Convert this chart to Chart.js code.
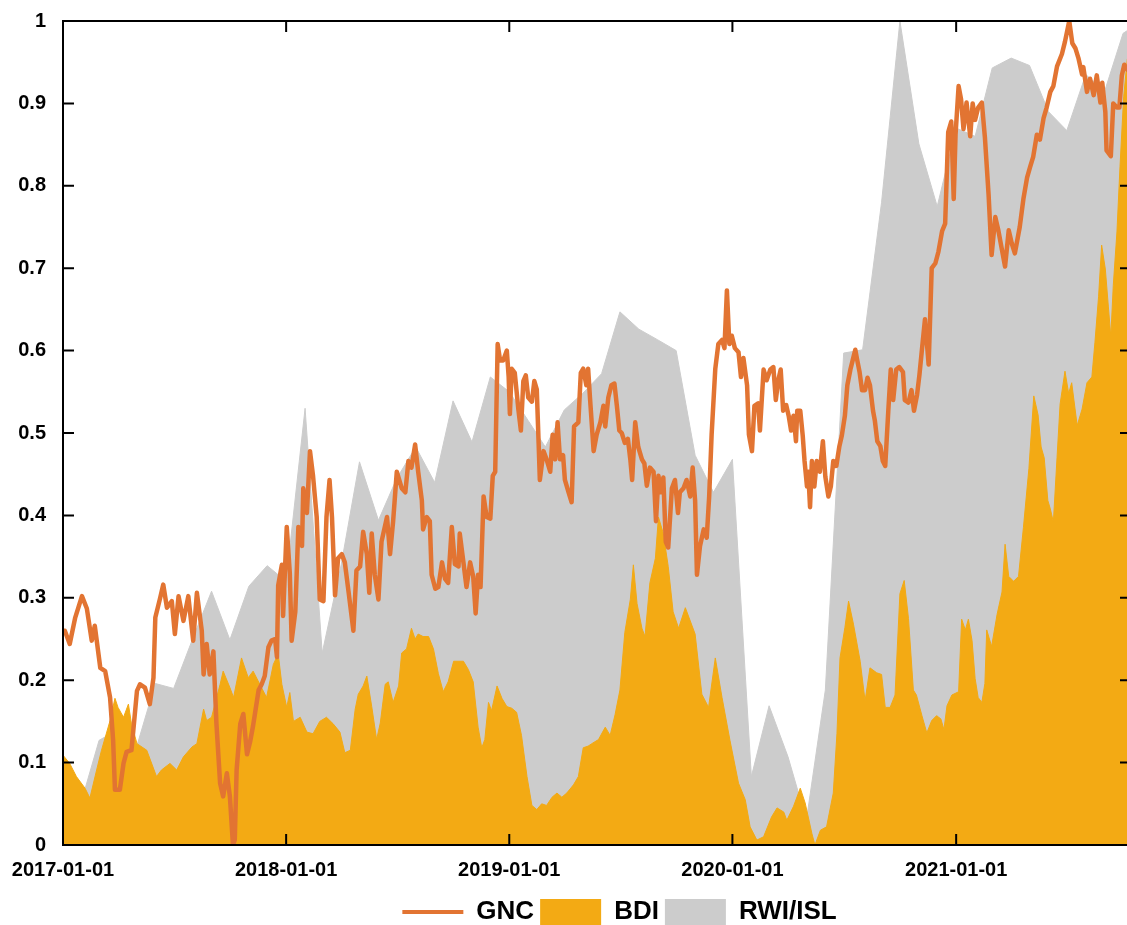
<!DOCTYPE html>
<html>
<head>
<meta charset="utf-8">
<title>GNC / BDI / RWI-ISL</title>
<script src="https://cdn.jsdelivr.net/npm/chart.js@4.4.1/dist/chart.umd.min.js"></script>
<style>
  html, body { margin: 0; padding: 0; overflow: hidden; background: #fff; }
  canvas { display: block; }
</style>
</head>
<body>
<canvas id="chart" width="1133" height="935"></canvas>
<script>
// x values are days since 2017-01-01, y values are normalised to 0..1
const tickDays = [0, 365, 730, 1095, 1461];
const tickLabels = ['2017-01-01', '2018-01-01', '2019-01-01', '2020-01-01', '2021-01-01'];

const gnc = [
  [0,.26],[3,.26],[11,.244],[20,.276],[31,.302],[39,.287],[47,.248],[52,.266],[61,.215],[69,.211],[77,.179],[82,.127],[85,.067],[93,.067],
  [99,.099],[104,.113],[112,.115],[115,.139],[121,.187],[126,.195],[134,.191],[142,.171],[148,.203],[151,.276],[159,.3],[164,.316],[170,.288],
  [178,.296],[183,.256],[189,.302],[197,.272],[205,.302],[213,.248],[219,.306],[227,.26],[230,.207],[235,.244],[240,.207],[246,.235],[251,.147],
  [257,.075],[262,.059],[268,.087],[273,.059],[278,0],[281,.006],[284,.091],[290,.147],[295,.159],[301,.11],[306,.125],[311,.145],[320,.188],
  [325,.195],[330,.205],[336,.24],[341,.248],[347,.25],[350,.228],[352,.315],[358,.34],[360,.278],[366,.386],[371,.33],[374,.248],[380,.283],
  [385,.386],[391,.363],[393,.433],[399,.403],[404,.478],[409,.448],[415,.398],[420,.298],[426,.296],[431,.398],[436,.443],[440,.398],[445,.303],
  [450,.348],[456,.353],[461,.343],[467,.308],[475,.26],[480,.333],[486,.338],[491,.38],[497,.353],[501,.306],[505,.378],[510,.328],[516,.298],
  [521,.368],[530,.398],[535,.353],[540,.393],[546,.453],[554,.433],[560,.428],[565,.466],[570,.458],[576,.486],[581,.453],[587,.418],[589,.383],
  [595,.398],[600,.393],[603,.328],[609,.311],[614,.313],[620,.343],[625,.323],[630,.318],[636,.386],[641,.341],[647,.338],[649,.378],[655,.343],
  [660,.313],[666,.343],[671,.326],[675,.281],[679,.328],[683,.313],[688,.423],[693,.398],[699,.396],[703,.448],[707,.453],[711,.608],[715,.588],
  [720,.588],[726,.6],[729,.568],[731,.523],[734,.578],[739,.573],[745,.528],[749,.503],[753,.563],[757,.57],[761,.543],[767,.538],[771,.563],
  [775,.553],[778,.488],[780,.443],[786,.478],[791,.468],[797,.453],[801,.498],[805,.468],[809,.513],[813,.468],[818,.473],[821,.443],[827,.428],
  [832,.416],[836,.508],[843,.513],[847,.573],[851,.578],[856,.558],[859,.578],[862,.543],[868,.478],[873,.498],[879,.513],[884,.533],[887,.508],
  [892,.543],[897,.558],[902,.56],[906,.533],[910,.503],[914,.5],[919,.488],[924,.493],[928,.468],[931,.443],[936,.513],[941,.483],[947,.468],
  [951,.463],[955,.436],[960,.458],[966,.453],[970,.393],[974,.448],[978,.428],[982,.446],[986,.368],[990,.361],[996,.433],[1001,.443],[1006,.403],
  [1009,.428],[1015,.433],[1020,.443],[1026,.423],[1030,.458],[1034,.418],[1037,.328],[1042,.363],[1048,.383],[1053,.373],[1057,.423],[1061,.498],
  [1067,.578],[1072,.608],[1078,.613],[1082,.603],[1086,.673],[1090,.608],[1094,.618],[1099,.603],[1105,.598],[1109,.568],[1113,.591],[1119,.558],
  [1122,.498],[1127,.478],[1131,.533],[1137,.536],[1140,.503],[1146,.577],[1151,.564],[1157,.577],[1162,.58],[1166,.54],[1170,.564],[1174,.577],
  [1178,.527],[1183,.534],[1187,.521],[1191,.503],[1195,.521],[1199,.49],[1201,.527],[1206,.527],[1210,.497],[1213,.466],[1217,.435],[1219,.453],
  [1222,.41],[1225,.466],[1229,.435],[1233,.466],[1238,.453],[1243,.49],[1247,.447],[1252,.423],[1256,.435],[1260,.466],[1265,.46],[1270,.484],
  [1274,.497],[1279,.521],[1283,.558],[1288,.577],[1292,.589],[1296,.601],[1299,.589],[1303,.574],[1307,.552],[1312,.552],[1316,.567],[1320,.558],
  [1325,.527],[1328,.515],[1332,.49],[1337,.484],[1341,.466],[1345,.46],[1350,.527],[1354,.577],[1358,.54],[1363,.577],[1368,.58],[1374,.574],
  [1377,.54],[1383,.537],[1388,.552],[1392,.527],[1397,.546],[1401,.571],[1405,.601],[1410,.638],[1416,.583],[1421,.7],[1427,.706],[1432,.72],
  [1438,.745],[1443,.754],[1448,.865],[1453,.878],[1457,.784],[1460,.862],[1465,.921],[1469,.905],[1473,.869],[1478,.901],[1484,.86],[1488,.9],
  [1492,.88],[1497,.895],[1503,.901],[1508,.859],[1514,.79],[1519,.716],[1525,.762],[1530,.746],[1536,.722],[1541,.702],[1547,.746],[1552,.73],
  [1557,.718],[1565,.75],[1571,.784],[1577,.81],[1582,.823],[1587,.835],[1593,.862],[1598,.856],[1604,.882],[1609,.895],[1615,.914],[1620,.921],
  [1626,.945],[1634,.96],[1639,.975],[1646,1],[1651,.973],[1656,.967],[1661,.955],[1667,.935],[1669,.944],[1675,.914],[1680,.93],[1686,.91],
  [1691,.934],[1697,.901],[1700,.925],[1705,.89],[1707,.843],[1714,.836],[1718,.9],[1724,.895],[1728,.895],[1732,.934],[1736,.947],[1741,.941]
];

const bdi = [
  [0,.109],[11,.099],[22,.083],[36,.069],[44,.057],[55,.091],[63,.115],[77,.151],[85,.178],[90,.167],[99,.155],[107,.171],[112,.147],[121,.123],
  [137,.115],[153,.083],[161,.091],[175,.099],[186,.091],[197,.107],[211,.119],[219,.123],[230,.165],[235,.151],[243,.155],[257,.195],[262,.211],
  [273,.191],[279,.179],[292,.227],[303,.203],[311,.211],[322,.195],[333,.179],[344,.219],[352,.232],[358,.195],[366,.167],[371,.185],[377,.15],
  [388,.155],[399,.137],[409,.135],[420,.15],[431,.155],[442,.147],[453,.137],[461,.112],[470,.115],[478,.165],[483,.183],[491,.193],[497,.205],
  [505,.168],[513,.128],[519,.148],[527,.195],[532,.198],[540,.173],[549,.193],[554,.233],[562,.238],[570,.263],[576,.25],[581,.256],[589,.253],
  [598,.253],[606,.238],[614,.208],[622,.186],[630,.198],[639,.223],[655,.223],[663,.213],[671,.198],[679,.143],[685,.118],[690,.128],[696,.173],
  [701,.163],[710,.193],[718,.178],[726,.168],[734,.166],[742,.161],[750,.133],[759,.083],[767,.048],[775,.043],[783,.05],[791,.048],[800,.058],
  [808,.063],[816,.058],[824,.063],[835,.073],[843,.083],[851,.118],[859,.12],[865,.123],[876,.128],[887,.143],[895,.133],[903,.158],[911,.188],
  [919,.258],[928,.298],[933,.34],[939,.293],[947,.263],[952,.253],[960,.318],[969,.348],[974,.398],[982,.378],[990,.338],[998,.283],[1007,.263],
  [1018,.288],[1034,.256],[1045,.183],[1056,.167],[1067,.227],[1078,.179],[1091,.127],[1105,.075],[1116,.055],[1124,.022],[1135,.006],[1146,.01],
  [1159,.034],[1168,.045],[1179,.04],[1184,.03],[1195,.047],[1206,.069],[1214,.051],[1225,.014],[1230,0],[1239,.018],[1249,.022],[1260,.063],
  [1266,.135],[1271,.227],[1279,.264],[1285,.296],[1293,.268],[1304,.223],[1312,.175],[1320,.215],[1331,.209],[1339,.207],[1345,.167],[1353,.167],
  [1361,.182],[1369,.305],[1376,.321],[1383,.275],[1391,.188],[1396,.182],[1405,.157],[1413,.136],[1421,.151],[1429,.157],[1436,.153],[1441,.14],
  [1446,.169],[1454,.182],[1465,.186],[1470,.274],[1476,.261],[1481,.274],[1487,.248],[1492,.202],[1497,.179],[1503,.173],[1508,.196],[1511,.261],
  [1519,.241],[1528,.28],[1536,.307],[1541,.365],[1547,.326],[1555,.32],[1563,.326],[1571,.385],[1580,.457],[1588,.545],[1595,.522],[1600,.483],
  [1605,.47],[1611,.418],[1615,.408],[1620,.392],[1626,.47],[1631,.535],[1639,.575],[1645,.548],[1650,.561],[1659,.509],[1667,.529],[1675,.561],
  [1683,.568],[1688,.61],[1694,.666],[1699,.728],[1705,.699],[1710,.653],[1714,.617],[1718,.679],[1724,.744],[1729,.823],[1735,.908],[1741,.954]
];

// RWI/ISL container throughput index, monthly
const rwiMonths = [
  '2017-01','2017-02','2017-03','2017-04','2017-05','2017-06','2017-07','2017-08','2017-09','2017-10','2017-11','2017-12',
  '2018-01','2018-02','2018-03','2018-04','2018-05','2018-06','2018-07','2018-08','2018-09','2018-10','2018-11','2018-12',
  '2019-01','2019-02','2019-03','2019-04','2019-05','2019-06','2019-07','2019-08','2019-09','2019-10','2019-11','2019-12',
  '2020-01','2020-02','2020-03','2020-04','2020-05','2020-06','2020-07','2020-08','2020-09','2020-10','2020-11','2020-12',
  '2021-01','2021-02','2021-03','2021-04','2021-05','2021-06','2021-07','2021-08','2021-09','2021-10','2021-11'
];
const rwiValues = [
  .085,.055,.127,.14,.118,.196,.19,.25,.308,.249,.314,.339,
  .32,.53,.233,.34,.465,.394,.445,.483,.44,.539,.489,.568,
  .55,.515,.483,.528,.548,.572,.647,.626,.613,.6,.473,.428,
  .468,.083,.169,.107,.03,.188,.597,.601,.78,1,.851,.775,
  .87,.86,.943,.955,.946,.89,.867,.935,.915,.985,1
];

const GNC_COLOR = '#E27432';
const BDI_COLOR = '#F3AA14';
const RWI_COLOR = '#CCCCCC';
const X_MAX = 1747;
const TICK_LEN = 11;

const DAY = 86400000;
const EPOCH = Date.UTC(2017, 0, 1);
const monthToDay = m => {
  const [y, mo] = m.split('-').map(Number);
  return (Date.UTC(y, mo - 1, 1) - EPOCH) / DAY;
};
const toPoints = rows => rows.map(([x, y]) => ({x, y}));
const rwiPoints = rwiMonths.map((m, i) => ({x: monthToDay(m), y: rwiValues[i]}));

Chart.defaults.font.family = '"Liberation Sans", Arial, sans-serif';
Chart.defaults.color = '#000';

// box frame with inward tick marks on all four sides
const frame = {
  id: 'frame',
  afterDraw(chart) {
    const {ctx, chartArea: a, scales: {x, y}} = chart;
    ctx.save();
    ctx.strokeStyle = '#000';
    ctx.lineWidth = 2;
    ctx.beginPath();
    x.ticks.forEach(t => {
      const px = x.getPixelForValue(t.value);
      ctx.moveTo(px, a.bottom); ctx.lineTo(px, a.bottom - TICK_LEN);
      ctx.moveTo(px, a.top); ctx.lineTo(px, a.top + TICK_LEN);
    });
    y.ticks.forEach(t => {
      const py = y.getPixelForValue(t.value);
      ctx.moveTo(a.left, py); ctx.lineTo(a.left + TICK_LEN, py);
      ctx.moveTo(a.right, py); ctx.lineTo(a.right - TICK_LEN, py);
    });
    ctx.stroke();
    ctx.strokeRect(a.left, a.top, a.right - a.left, a.bottom - a.top);
    ctx.restore();
  }
};

// centre the legend under the plot rather than the canvas
const legendShift = {
  id: 'legendShift',
  afterLayout(chart) {
    chart.legend.left += 54;
    chart.legend.right += 54;
  }
};

const font = {size: 20, weight: 'bold'};

new Chart(document.getElementById('chart'), {
  type: 'line',
  data: {
    datasets: [
      {label: 'GNC', data: toPoints(gnc), borderColor: GNC_COLOR, backgroundColor: GNC_COLOR,
       borderWidth: 4.5, pointRadius: 0, fill: false, borderJoinStyle: 'round', borderCapStyle: 'round'},
      {label: 'BDI', data: toPoints(bdi), borderColor: BDI_COLOR, backgroundColor: BDI_COLOR,
       borderWidth: 1, pointRadius: 0, fill: 'origin'},
      {label: 'RWI/ISL', data: rwiPoints, borderColor: RWI_COLOR, backgroundColor: RWI_COLOR,
       borderWidth: 1, pointRadius: 0, fill: 'origin'}
    ]
  },
  options: {
    responsive: false,
    animation: false,
    events: [],
    layout: {padding: {top: 16, right: 2, left: 0, bottom: 0}},
    scales: {
      x: {
        type: 'linear', min: 0, max: X_MAX,
        grid: {display: false}, border: {display: false},
        afterBuildTicks: s => { s.ticks = tickDays.map(v => ({value: v})); },
        afterFit: s => { s.height = 48; },
        ticks: {callback: v => tickLabels[tickDays.indexOf(v)], padding: 5, maxRotation: 0, autoSkip: false, font}
      },
      y: {
        min: 0, max: 1,
        grid: {display: false}, border: {display: false},
        afterFit: s => { s.width = 63; },
        ticks: {stepSize: 0.1, padding: 9, font, callback: v => String(Number(v.toFixed(1)))}
      }
    },
    plugins: {
      tooltip: {enabled: false},
      legend: {
        position: 'bottom',
        labels: {
          usePointStyle: true, pointStyleWidth: 61, boxHeight: 26, padding: 6,
          font: {size: 26, weight: 'bold'},
          generateLabels: chart => chart.data.datasets.map((ds, i) => ({
            text: ds.label,
            datasetIndex: i,
            fillStyle: ds.backgroundColor,
            strokeStyle: ds.borderColor,
            lineWidth: i === 0 ? 4 : 0,
            pointStyle: i === 0 ? 'line' : 'rect',
            hidden: false,
            fontColor: '#000'
          }))
        }
      }
    }
  },
  plugins: [frame, legendShift]
});
</script>
</body>
</html>
